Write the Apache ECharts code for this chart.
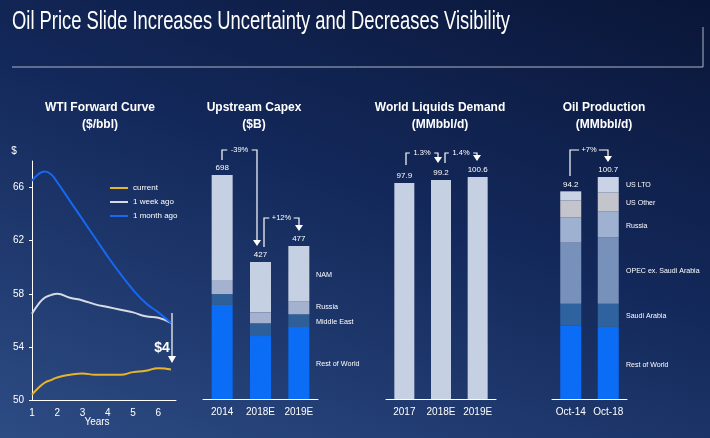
<!DOCTYPE html>
<html>
<head>
<meta charset="utf-8">
<script src="https://cdn.jsdelivr.net/npm/echarts@6/dist/echarts.min.js"></script>
<style>
html,body{margin:0;padding:0;}
body{width:710px;height:438px;background:linear-gradient(200deg,#0a1638 0%,#13285a 45%,#2d4c84 100%);}
#main{width:710px;height:438px;}
</style>
</head>
<body>
<div id="main"></div>
<script>
var myChart = echarts.init(document.getElementById('main'));
var FONT = 'Liberation Sans';
var WHITE = '#ffffff';

// WTI forward curve ($/bbl), x in years
var years = [1,1.25,1.5,1.75,2,2.5,3,3.5,4,4.5,5,5.5,6,6.5];
var wti = {
	'current':     [50.4,50.9,51.3,51.5,51.7,51.9,52.0,51.9,51.9,51.9,52.1,52.2,52.4,52.3],
	'1 week ago':  [56.5,57.2,57.7,57.9,58.0,57.7,57.5,57.2,57.0,56.8,56.6,56.3,56.2,55.8],
	'1 month ago': [66.5,67.0,67.2,67.0,66.4,65.0,63.6,62.2,60.8,59.5,58.3,57.3,56.6,55.8]
};
var wtiColors = {'current':'#e8b52a','1 week ago':'#d7dbe6','1 month ago':'#1767f0'};

// Upstream capex ($B)
var capexCats = ['2014','2018E','2019E'];
var capex = [
	{name:'Rest of World', color:'#0b6cf6', data:[293,196,224]},
	{name:'Middle East',   color:'#2f5f98', data:[34,40,40]},
	{name:'Russia',        color:'#a4b2cf', data:[44,34,40]},
	{name:'NAM',           color:'#c6d0e3', data:[327,157,173]}
];
var capexTotal = [698,427,477];

// World liquids demand (MMbbl/d)
var demandCats = ['2017','2018E','2019E'];
var demand = [97.9,99.2,100.6];

// Oil production (MMbbl/d)
var prodCats = ['Oct-14','Oct-18'];
var prod = [
	{name:'Rest of World',         color:'#0b6cf6', data:[33.2,32.7]},
	{name:'Saudi Arabia',          color:'#2f63a0', data:[10.0,10.5]},
	{name:'OPEC ex. Saudi Arabia', color:'#7891bb', data:[27.7,30.0]},
	{name:'Russia',                color:'#9fb1d0', data:[11.4,11.8]},
	{name:'US Other',              color:'#c4c5cc', data:[7.7,8.6]},
	{name:'US LTO',                color:'#c9d3e5', data:[4.2,7.1]}
];
var prodTotal = [94.2,100.7];

var grids = [
	{left:32, right:534, top:161, bottom:38},
	{left:203, width:115, top:175, bottom:39},
	{left:386, width:110, top:177, bottom:39},
	{left:552, width:75, top:177, bottom:39}
];
var axisLine = {lineStyle:{color:WHITE, width:1}};
var lbl = {color:WHITE, fontFamily:FONT, fontSize:10};
var catLbl = {color:WHITE, fontFamily:FONT, fontSize:10, interval:0, margin:8};

var xAxis = [
	{gridIndex:0, type:'value', min:1, max:6.7, interval:1, axisLine:axisLine, axisTick:{show:false},
	 splitLine:{show:false}, axisLabel:Object.assign({showMaxLabel:false}, lbl)},
	{gridIndex:1, type:'category', data:capexCats, axisLine:axisLine, axisTick:{show:false}, axisLabel:catLbl},
	{gridIndex:2, type:'category', data:demandCats, axisLine:axisLine, axisTick:{show:false}, axisLabel:catLbl},
	{gridIndex:3, type:'category', data:prodCats, axisLine:axisLine, axisTick:{show:false}, axisLabel:catLbl}
];
var yAxis = [
	{gridIndex:0, type:'value', min:50, max:68, axisLine:{show:true,lineStyle:{color:WHITE}},
	 axisTick:{show:true, customValues:[50,54,58,62,66], length:3, lineStyle:{color:WHITE}},
	 splitLine:{show:false}, axisLabel:Object.assign({customValues:[50,54,58,62,66]}, lbl)},
	{gridIndex:1, type:'value', min:0, max:698, show:false, splitLine:{show:false}},
	{gridIndex:2, type:'value', min:0, max:100.6, show:false, splitLine:{show:false}},
	{gridIndex:3, type:'value', min:0, max:100.7, show:false, splitLine:{show:false}}
];

var series = [];
Object.keys(wti).forEach(function (k) {
	series.push({
		name:k, type:'line', xAxisIndex:0, yAxisIndex:0, smooth:true, showSymbol:false,
		lineStyle:{color:wtiColors[k], width:2}, itemStyle:{color:wtiColors[k]},
		data: years.map(function (x, i) { return [x, wti[k][i]]; })
	});
});
var topLabel = function (totals, dec) {
	return {show:true, position:'top', distance:3, color:WHITE, fontFamily:FONT, fontSize:8,
		formatter:function (p) { return dec ? totals[p.dataIndex].toFixed(1) : totals[p.dataIndex]; }};
};
capex.forEach(function (s, i) {
	series.push({name:'c'+s.name, type:'bar', stack:'capex', xAxisIndex:1, yAxisIndex:1, barWidth:21,
		itemStyle:{color:s.color}, data:s.data,
		label: i === capex.length-1 ? topLabel(capexTotal,false) : {show:false}});
});
series.push({type:'bar', xAxisIndex:2, yAxisIndex:2, barWidth:20, itemStyle:{color:'#c6d0e3'},
	data:demand, label:topLabel(demand,true)});
prod.forEach(function (s, i) {
	series.push({name:'p'+s.name, type:'bar', stack:'prod', xAxisIndex:3, yAxisIndex:3, barWidth:21,
		itemStyle:{color:s.color}, data:s.data,
		label: i === prod.length-1 ? topLabel(prodTotal,true) : {show:false}});
});

// annotation helpers
var graphics = [];
function txt(x, y, t, size, bold, align) {
	var g = {type:'text', x:x, y:y, style:{text:t, fill:WHITE, font:(bold?'bold ':'')+size+'px '+FONT,
		textAlign:align||'center', textVerticalAlign:'middle'}};
	graphics.push(g);
	return g;
}
function bracket(x1, y1, yTop, x2, y2, label) {
	var mid = (x1+x2)/2, half = label.length*2.3+3;
	graphics.push({type:'polyline', shape:{points:[[mid-half,yTop],[x1,yTop],[x1,y1]]},
		style:{stroke:WHITE, lineWidth:1.2, fill:null}});
	graphics.push({type:'polyline', shape:{points:[[mid+half,yTop],[x2,yTop],[x2,y2-5]]},
		style:{stroke:WHITE, lineWidth:1.2, fill:null}});
	graphics.push({type:'polygon', shape:{points:[[x2-4,y2-6],[x2+4,y2-6],[x2,y2]]}, style:{fill:WHITE}});
	txt(mid, yTop, label, 7.5, false);
}
graphics.push({type:'polyline', shape:{points:[[12,67],[703,67],[703,27]]}, style:{stroke:'#aab4c8', lineWidth:1, fill:null}});
var title = txt(0, 0, 'Oil Price Slide Increases Uncertainty and Decreases Visibility', 25, false, 'left');
title.x = 12; title.y = 22; title.scaleX = 0.735;
txt(100, 108, 'WTI Forward Curve', 12, true); txt(100, 125, '($/bbl)', 12, true);
txt(254, 108, 'Upstream Capex', 12, true); txt(254, 125, '($B)', 12, true);
txt(440, 108, 'World Liquids Demand', 12, true); txt(440, 125, '(MMbbl/d)', 12, true);
txt(604, 108, 'Oil Production', 12, true); txt(604, 125, '(MMbbl/d)', 12, true);
txt(14, 151, '$', 10, false); txt(97, 422, 'Years', 10, false);
txt(162, 348, '$4', 14, true);
graphics.push({type:'line', shape:{x1:172, y1:313, x2:172, y2:358}, style:{stroke:WHITE, lineWidth:1.2}});
graphics.push({type:'polygon', shape:{points:[[168,356],[176,356],[172,363]]}, style:{fill:WHITE}});
bracket(222, 160, 150, 257, 246, '-39%');
bracket(264, 247, 218, 299, 231, '+12%');
bracket(406, 165, 153, 438, 163, '1.3%');
bracket(445, 163, 153, 477, 161, '1.4%');
bracket(570, 176, 150, 608, 162, '+7%');
[['NAM',275],['Russia',307],['Middle East',322],['Rest of World',364]].forEach(function (a) {
	var g = txt(316, a[1], a[0], 8, false, 'left'); g.scaleX = 0.9;
});
[['US LTO',185],['US Other',203],['Russia',226],['OPEC ex. Saudi Arabia',271],['Saudi Arabia',316],['Rest of World',365]].forEach(function (a) {
	var g = txt(626, a[1], a[0], 8, false, 'left'); g.scaleX = 0.88;
});

myChart.setOption({
	backgroundColor:'transparent',
	animation:false,
	grid:grids,
	xAxis:xAxis,
	yAxis:yAxis,
	legend:{data:['current','1 week ago','1 month ago'], orient:'vertical', left:105, top:179, itemGap:6,
		icon:'rect', itemWidth:18, itemHeight:2, textStyle:{color:WHITE, fontFamily:FONT, fontSize:8}},
	graphic:graphics,
	series:series
});
</script>
</body>
</html>
